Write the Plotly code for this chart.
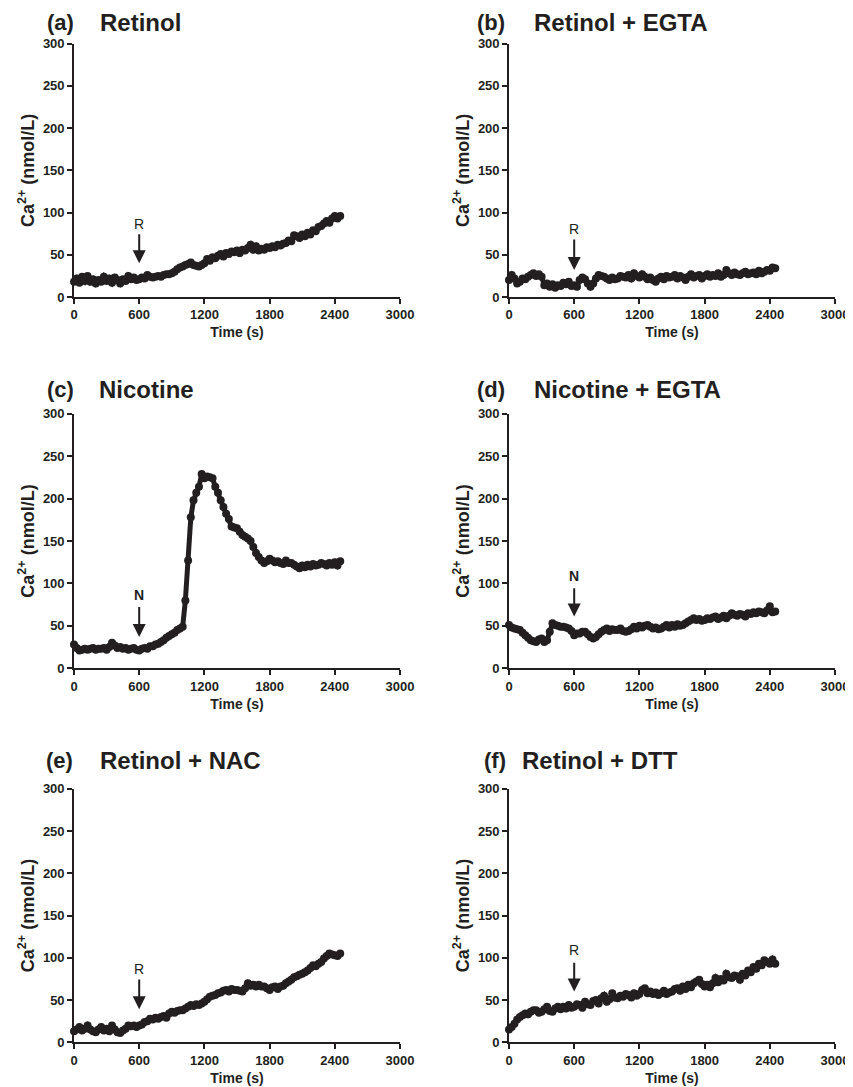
import plotly.graph_objects as go

# ---------------- data (Ca2+ in nmol/L, sampled every 25 s from 0 to 2450 s) ----------------
time_s = list(range(0, 2451, 25))

retinol = [
    18, 22, 17, 24, 19, 25, 18, 21, 16, 20,
    18, 24, 19, 22, 17, 23, 20, 16, 21, 19,
    25, 21, 23, 20, 21, 23, 22, 26, 24, 23,
    24, 25, 24, 26, 27, 27, 28, 30, 33, 35,
    36, 38, 39, 41, 38, 37, 36, 38, 40, 45,
    43, 47, 46, 49, 51, 48, 52, 51, 54, 53,
    55, 52, 56, 55, 58, 62, 56, 60, 55, 57,
    56, 59, 58, 60, 59, 62, 61, 63, 64, 67,
    66, 73, 72, 70, 74, 72, 76, 74, 79, 78,
    83, 84, 87, 90, 88, 93, 96, 93, 96,
]

retinol_egta = [
    20, 26, 22, 16, 18, 22, 21, 24, 26, 28,
    25, 27, 24, 14, 16, 12, 15, 11, 14, 13,
    17, 15, 18, 13, 14, 12, 20, 23, 21, 16,
    12, 16, 22, 26, 25, 24, 22, 20, 23, 21,
    22, 25, 24, 23, 26, 22, 28, 25, 23, 27,
    24, 21, 23, 20, 18, 22, 24, 21, 25, 23,
    24, 26, 22, 25, 23, 20, 24, 27, 23, 25,
    26, 22, 25, 27, 24, 26, 25, 28, 24, 26,
    32, 28, 26, 29, 27, 26, 28, 30, 27, 28,
    29, 27, 31, 28, 30, 32, 31, 35, 34,
]

nicotine = [
    28, 24, 21, 22, 23, 22, 23, 24, 22, 23,
    23, 24, 22, 25, 30, 27, 24, 25, 23, 24,
    22, 23, 24, 22, 21, 23, 24, 23, 26, 26,
    28, 29, 31, 33, 36, 38, 40, 42, 45, 47,
    49, 80, 127, 178, 198, 207, 214, 229, 224, 226,
    225, 224, 214, 207, 198, 190, 182, 176, 167, 166,
    165, 161, 157, 155, 153, 150, 143, 136, 131, 127,
    124, 126, 129, 127, 125, 126, 124, 123, 127, 124,
    124, 122, 120, 118, 121, 119, 122, 120, 123, 121,
    122, 124, 123, 121, 124, 122, 125, 121, 126,
]

nicotine_egta = [
    51, 48, 47, 46, 45, 42, 39, 36, 33, 32,
    31, 34, 35, 31, 33, 43, 53, 51, 50, 49,
    49, 48, 47, 44, 39, 41, 41, 43, 43, 40,
    37, 35, 37, 40, 43, 45, 47, 44, 46, 45,
    45, 47, 44, 43, 44, 46, 49, 47, 50, 48,
    50, 51, 49, 47, 48, 46, 47, 49, 51, 48,
    51, 49, 52, 50, 51, 53, 55, 57, 59, 57,
    58, 56, 57, 59, 58, 60, 61, 58, 60, 62,
    59, 62, 65, 63, 62, 64, 63, 61, 65, 64,
    66, 65, 67, 66, 65, 68, 73, 66, 67,
]

retinol_nac = [
    13, 15, 18, 14, 16, 20, 15, 13, 12, 15,
    18, 14, 16, 13, 20, 15, 12, 11, 14, 16,
    20, 19, 20, 18, 20, 21, 24, 25, 28, 27,
    29, 28, 30, 31, 29, 34, 36, 35, 37, 38,
    38, 40, 42, 44, 43, 45, 44, 46, 48, 51,
    54, 55, 56, 58, 59, 61, 62, 60, 63, 62,
    62, 61, 60, 64, 70, 67, 68, 66, 68, 66,
    66, 64, 62, 65, 66, 63, 66, 67, 70, 72,
    74, 77, 78, 80, 81, 83, 85, 88, 91, 90,
    93, 95, 99, 102, 105, 104, 103, 102, 105,
]

retinol_dtt = [
    15, 18, 22, 27, 30, 32, 34, 33, 36, 38,
    38, 35, 36, 39, 42, 37, 36, 40, 42, 39,
    42, 40, 44, 41, 42, 45, 44, 41, 48, 45,
    44, 49, 50, 46, 52, 55, 48, 51, 58, 53,
    52, 55, 54, 57, 56, 53, 58, 55, 57, 62,
    64, 58, 60, 57, 59, 56, 58, 61, 57, 59,
    60, 63, 64, 61, 66, 63, 68, 65, 70, 72,
    74, 69, 66, 68, 65, 70, 76, 71, 75, 73,
    81, 77, 76, 79, 78, 74, 81, 79, 85, 83,
    89, 87, 93, 91, 97, 95, 93, 98, 93,
]

panel_letters = ["(a)", "(b)", "(c)", "(d)", "(e)", "(f)"]
panel_titles = ["Retinol", "Retinol + EGTA", "Nicotine", "Nicotine + EGTA",
                "Retinol + NAC", "Retinol + DTT"]
series = [retinol, retinol_egta, nicotine, nicotine_egta, retinol_nac, retinol_dtt]

# arrow markers: label, time, label y, arrow top y, arrow tip y
arrow_labels = ["R", "R", "N", "N", "R", "R"]
arrow_time = [600, 600, 600, 600, 600, 600]
arrow_label_y = [86, 80, 86, 109, 87, 109]
arrow_top_y = [76, 70, 74, 96, 76, 96]
arrow_tip_y = [40, 32, 37, 61, 39, 60]

x_ticks = [0, 600, 1200, 1800, 2400, 3000]
y_ticks = [0, 50, 100, 150, 200, 250, 300]

# ---------------- layout geometry ----------------
W, H = 853, 1087
OFF = 8  # page body margin added by the browser
INK = "#231f20"
FONT = "Arial, Liberation Sans, Helvetica, sans-serif"


def px_x(p):
    return (p - OFF) / W


def px_y(p):
    return 1 - (p - OFF) / H


x_dom = [[px_x(74), px_x(400)], [px_x(509), px_x(835)]]
y_px = [(43.7, 297.0), (413.7, 668.3), (788.7, 1042.3)]
y_dom = [[px_y(b), px_y(t)] for (t, b) in y_px]

# title positions (pixels): letter left x, title left x, centre y
letter_x = [45, 475, 45, 475, 44, 482]
title_x = [98, 532, 97, 532, 98, 520]
title_y = [23, 23, 389, 389, 761, 761]

fig = go.Figure()
layout = dict(
    width=W, height=H,
    margin=dict(l=0, r=0, t=0, b=0),
    paper_bgcolor="white", plot_bgcolor="white",
    showlegend=False,
    font=dict(family=FONT, color=INK),
)
annotations = []

for i, vals in enumerate(series):
    r, c = divmod(i, 2)
    n = i + 1
    xa = "x" if n == 1 else f"x{n}"
    ya = "y" if n == 1 else f"y{n}"
    fig.add_trace(go.Scatter(
        x=time_s, y=vals, xaxis=xa, yaxis=ya,
        mode="lines+markers",
        line=dict(color=INK, width=5),
        marker=dict(color=INK, size=8),
        cliponaxis=False, hoverinfo="skip",
    ))
    axis_common = dict(
        showline=True, linecolor=INK, linewidth=1.6,
        ticks="outside", ticklen=5, tickwidth=1.6, tickcolor=INK,
        showgrid=False, zeroline=False, automargin=False,
        tickfont=dict(family=FONT, size=13, color=INK, weight="bold"),
    )
    layout["xaxis" if n == 1 else f"xaxis{n}"] = dict(
        axis_common, domain=x_dom[c], anchor=ya, range=[0, 3000],
        tickmode="array", tickvals=x_ticks, ticktext=[str(v) for v in x_ticks],
        title=dict(text="Time (s)", font=dict(family=FONT, size=14, color=INK, weight="bold"),
                   standoff=6),
    )
    layout["yaxis" if n == 1 else f"yaxis{n}"] = dict(
        axis_common, domain=y_dom[r], anchor=xa, range=[0, 300],
        tickmode="array", tickvals=y_ticks, ticktext=[str(v) for v in y_ticks],
        title=dict(text="Ca<sup>2+</sup> (nmol/L)",
                   font=dict(family=FONT, size=18, color=INK, weight="bold"), standoff=4),
    )
    annotations.append(dict(
        xref="paper", yref="paper", x=px_x(letter_x[i]), y=px_y(title_y[i]),
        xanchor="left", yanchor="middle", showarrow=False, text=panel_letters[i],
        font=dict(family=FONT, size=22, color=INK, weight="bold"),
    ))
    annotations.append(dict(
        xref="paper", yref="paper", x=px_x(title_x[i]), y=px_y(title_y[i]),
        xanchor="left", yanchor="middle", showarrow=False, text=panel_titles[i],
        font=dict(family=FONT, size=24, color=INK, weight="bold"),
    ))
    annotations.append(dict(
        xref=xa, yref=ya, x=arrow_time[i], y=arrow_tip_y[i],
        axref=xa, ayref=ya, ax=arrow_time[i], ay=arrow_top_y[i],
        showarrow=True, arrowhead=2, arrowsize=1.3, arrowwidth=2, arrowcolor=INK,
        text="",
    ))
    annotations.append(dict(
        xref=xa, yref=ya, x=arrow_time[i], y=arrow_label_y[i],
        xanchor="center", yanchor="middle", showarrow=False, text=arrow_labels[i],
        font=dict(family=FONT, size=14, color=INK,
                  weight="bold" if arrow_labels[i] == "N" else "normal"),
    ))

layout["annotations"] = annotations
fig.update_layout(**layout)
fig.write_html("out.html")
